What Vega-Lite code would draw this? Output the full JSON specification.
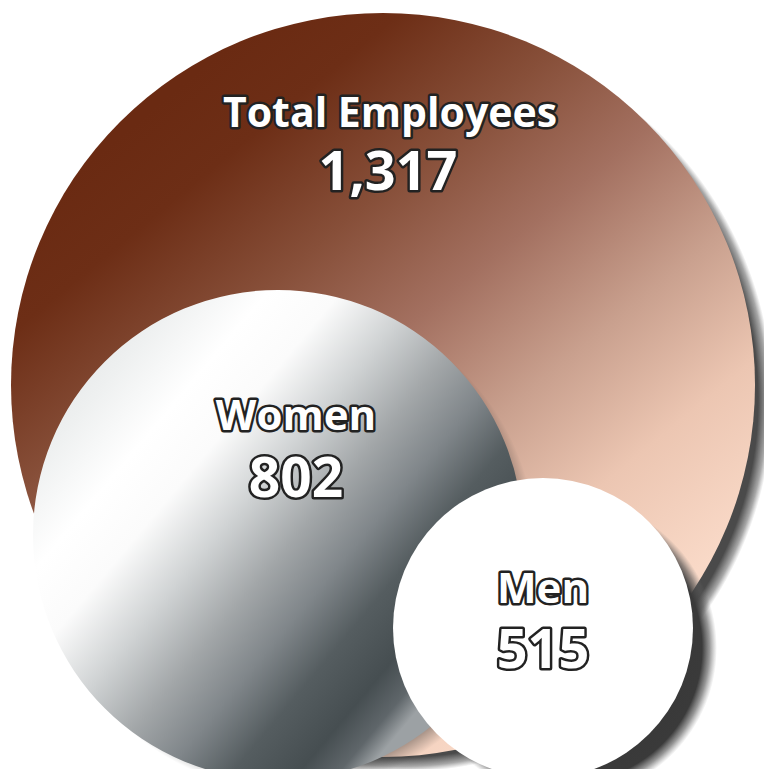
{
  "$schema": "https://vega.github.io/schema/vega-lite/v6.json",
  "width": 764,
  "height": 769,
  "padding": 0,
  "autosize": {"type": "none"},
  "background": "white",
  "config": {"view": {"stroke": null}},
  "data": {"values": [
    {"group": "Total Employees", "count": 1317},
    {"group": "Women", "count": 802},
    {"group": "Men", "count": 515}
  ]},
  "encoding": {
    "x": {"field": "count", "type": "quantitative", "scale": {"domain": [515, 802, 1317], "range": [543, 278, 383], "zero": false, "nice": false}, "axis": null},
    "y": {"field": "count", "type": "quantitative", "scale": {"domain": [515, 802, 1317], "range": [628, 535, 385], "zero": false, "nice": false}, "axis": null}
  },
  "layer": [
    {
      "transform": [{"filter": "datum.group === 'Total Employees'"}],
      "mark": {"type": "point", "shape": "circle", "filled": true, "opacity": 1, "strokeWidth": 0, "xOffset": 18, "yOffset": 15,
        "fill": {"gradient": "radial", "x1": 0.5, "y1": 0.5, "r1": 0, "x2": 0.5, "y2": 0.5, "r2": 0.5,
          "stops": [{"offset": 0, "color": "#444444"}, {"offset": 0.96, "color": "#4a4a4a"}, {"offset": 0.985, "color": "rgba(80,80,80,0.5)"}, {"offset": 1, "color": "rgba(100,100,100,0)"}]}},
      "encoding": {"size": {"field": "count", "type": "quantitative", "scale": {"domain": [515, 802, 1317], "range": [90000, 240100, 553536], "zero": false, "nice": false}, "legend": null}}
    },
    {
      "transform": [{"filter": "datum.group === 'Total Employees'"}],
      "mark": {"type": "point", "shape": "circle", "filled": true, "opacity": 1, "strokeWidth": 0,
        "fill": {"gradient": "linear", "x1": 0.2, "y1": 0.12, "x2": 0.8, "y2": 0.85,
          "stops": [
            {"offset": 0, "color": "#6a2a12"},
            {"offset": 0.12, "color": "#6d2e16"},
            {"offset": 0.3, "color": "#874f39"},
            {"offset": 0.47, "color": "#a37060"},
            {"offset": 0.65, "color": "#c9a08e"},
            {"offset": 0.82, "color": "#ecc6b2"},
            {"offset": 1, "color": "#f9d9c7"}
          ]}},
      "encoding": {"size": {"field": "count", "type": "quantitative", "scale": {"domain": [515, 802, 1317], "range": [90000, 240100, 553536], "zero": false, "nice": false}, "legend": null}}
    },
    {
      "transform": [{"filter": "datum.group === 'Women'"}],
      "mark": {"type": "point", "shape": "circle", "filled": true, "opacity": 0.4, "strokeWidth": 0, "xOffset": 13, "yOffset": 11,
        "fill": {"gradient": "radial", "x1": 0.5, "y1": 0.5, "r1": 0, "x2": 0.5, "y2": 0.5, "r2": 0.5,
          "stops": [{"offset": 0, "color": "#333333"}, {"offset": 0.93, "color": "#333333"}, {"offset": 1, "color": "rgba(51,51,51,0)"}]}},
      "encoding": {"size": {"field": "count", "type": "quantitative", "scale": {"domain": [515, 802, 1317], "range": [90000, 240100, 553536], "zero": false, "nice": false}, "legend": null}}
    },
    {
      "transform": [{"filter": "datum.group === 'Women'"}],
      "mark": {"type": "point", "shape": "circle", "filled": true, "opacity": 1, "strokeWidth": 0,
        "fill": {"gradient": "linear", "x1": 0.1, "y1": 0.05, "x2": 0.9, "y2": 0.72,
          "stops": [
            {"offset": 0, "color": "#e2e4e5"},
            {"offset": 0.12, "color": "#eef0f0"},
            {"offset": 0.25, "color": "#ffffff"},
            {"offset": 0.36, "color": "#fbfbfb"},
            {"offset": 0.48, "color": "#d0d3d4"},
            {"offset": 0.6, "color": "#a2a6a8"},
            {"offset": 0.7, "color": "#80868a"},
            {"offset": 0.8, "color": "#555d60"},
            {"offset": 0.9, "color": "#464e51"},
            {"offset": 0.96, "color": "#5f666a"},
            {"offset": 1, "color": "#9ca1a4"}
          ]}},
      "encoding": {"size": {"field": "count", "type": "quantitative", "scale": {"domain": [515, 802, 1317], "range": [90000, 240100, 553536], "zero": false, "nice": false}, "legend": null}}
    },
    {
      "transform": [{"filter": "datum.group === 'Men'"}],
      "mark": {"type": "point", "shape": "circle", "filled": true, "opacity": 1, "strokeWidth": 0, "xOffset": 24, "yOffset": 20,
        "fill": {"gradient": "radial", "x1": 0.5, "y1": 0.5, "r1": 0, "x2": 0.5, "y2": 0.5, "r2": 0.5,
          "stops": [{"offset": 0, "color": "#333333"}, {"offset": 0.9, "color": "#3a3a3a"}, {"offset": 0.95, "color": "rgba(80,80,80,0.6)"}, {"offset": 1, "color": "rgba(110,110,110,0)"}]}},
      "encoding": {"size": {"field": "count", "type": "quantitative", "scale": {"domain": [515, 802, 1317], "range": [90000, 240100, 553536], "zero": false, "nice": false}, "legend": null}}
    },
    {
      "transform": [{"filter": "datum.group === 'Men'"}],
      "mark": {"type": "point", "shape": "circle", "filled": true, "opacity": 1, "strokeWidth": 0, "fill": "#ffffff"},
      "encoding": {"size": {"field": "count", "type": "quantitative", "scale": {"domain": [515, 802, 1317], "range": [90000, 240100, 553536], "zero": false, "nice": false}, "legend": null}}
    },
    {
      "transform": [{"filter": "datum.group === 'Total Employees'"}],
      "mark": {"type": "text", "font": "Open Sans", "fontWeight": "bold", "fontSize": 41, "align": "center", "baseline": "alphabetic", "dx": 7, "dy": -258, "fill": "#222222", "stroke": "#222222", "strokeWidth": 5, "strokeJoin": "round"},
      "encoding": {"text": {"field": "group"}}
    },
    {
      "transform": [{"filter": "datum.group === 'Total Employees'"}],
      "mark": {"type": "text", "font": "Open Sans", "fontWeight": "bold", "fontSize": 41, "align": "center", "baseline": "alphabetic", "dx": 7, "dy": -258, "fill": "#ffffff"},
      "encoding": {"text": {"field": "group"}}
    },
    {
      "transform": [{"filter": "datum.group === 'Total Employees'"}],
      "mark": {"type": "text", "font": "Open Sans", "fontWeight": "bold", "fontSize": 54, "align": "center", "baseline": "alphabetic", "dx": 5, "dy": -195, "fill": "#222222", "stroke": "#222222", "strokeWidth": 5, "strokeJoin": "round"},
      "encoding": {"text": {"field": "count", "format": ",d"}}
    },
    {
      "transform": [{"filter": "datum.group === 'Total Employees'"}],
      "mark": {"type": "text", "font": "Open Sans", "fontWeight": "bold", "fontSize": 54, "align": "center", "baseline": "alphabetic", "dx": 5, "dy": -195, "fill": "#ffffff"},
      "encoding": {"text": {"field": "count", "format": ",d"}}
    },
    {
      "transform": [{"filter": "datum.group === 'Women'"}],
      "mark": {"type": "text", "font": "Open Sans", "fontWeight": "bold", "fontSize": 42, "align": "center", "baseline": "alphabetic", "dx": 18, "dy": -105, "fill": "#222222", "stroke": "#222222", "strokeWidth": 5, "strokeJoin": "round"},
      "encoding": {"text": {"field": "group"}}
    },
    {
      "transform": [{"filter": "datum.group === 'Women'"}],
      "mark": {"type": "text", "font": "Open Sans", "fontWeight": "bold", "fontSize": 42, "align": "center", "baseline": "alphabetic", "dx": 18, "dy": -105, "fill": "#ffffff"},
      "encoding": {"text": {"field": "group"}}
    },
    {
      "transform": [{"filter": "datum.group === 'Women'"}],
      "mark": {"type": "text", "font": "Open Sans", "fontWeight": "bold", "fontSize": 55, "align": "center", "baseline": "alphabetic", "dx": 18, "dy": -38, "fill": "#222222", "stroke": "#222222", "strokeWidth": 5, "strokeJoin": "round"},
      "encoding": {"text": {"field": "count", "format": ",d"}}
    },
    {
      "transform": [{"filter": "datum.group === 'Women'"}],
      "mark": {"type": "text", "font": "Open Sans", "fontWeight": "bold", "fontSize": 55, "align": "center", "baseline": "alphabetic", "dx": 18, "dy": -38, "fill": "#ffffff"},
      "encoding": {"text": {"field": "count", "format": ",d"}}
    },
    {
      "transform": [{"filter": "datum.group === 'Men'"}],
      "mark": {"type": "text", "font": "Open Sans", "fontWeight": "bold", "fontSize": 42, "align": "center", "baseline": "alphabetic", "dx": 0, "dy": -25, "fill": "#222222", "stroke": "#222222", "strokeWidth": 5, "strokeJoin": "round"},
      "encoding": {"text": {"field": "group"}}
    },
    {
      "transform": [{"filter": "datum.group === 'Men'"}],
      "mark": {"type": "text", "font": "Open Sans", "fontWeight": "bold", "fontSize": 42, "align": "center", "baseline": "alphabetic", "dx": 0, "dy": -25, "fill": "#ffffff"},
      "encoding": {"text": {"field": "group"}}
    },
    {
      "transform": [{"filter": "datum.group === 'Men'"}],
      "mark": {"type": "text", "font": "Open Sans", "fontWeight": "bold", "fontSize": 54, "align": "center", "baseline": "alphabetic", "dx": 0, "dy": 40, "fill": "#222222", "stroke": "#222222", "strokeWidth": 5, "strokeJoin": "round"},
      "encoding": {"text": {"field": "count", "format": ",d"}}
    },
    {
      "transform": [{"filter": "datum.group === 'Men'"}],
      "mark": {"type": "text", "font": "Open Sans", "fontWeight": "bold", "fontSize": 54, "align": "center", "baseline": "alphabetic", "dx": 0, "dy": 40, "fill": "#ffffff"},
      "encoding": {"text": {"field": "count", "format": ",d"}}
    }
  ]
}
